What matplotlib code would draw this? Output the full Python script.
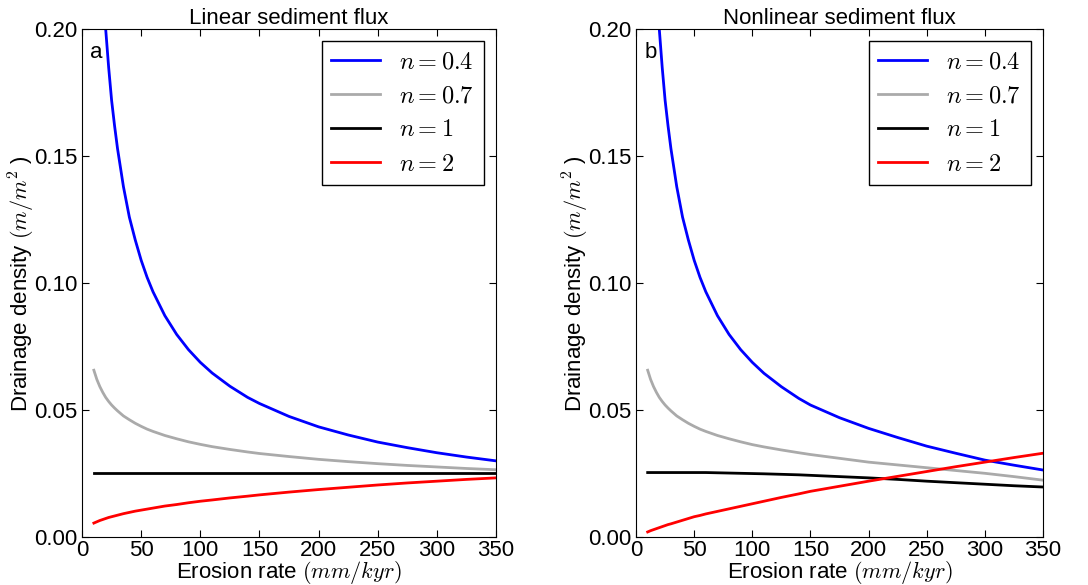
import matplotlib
matplotlib.use('Agg')
import matplotlib.pyplot as plt

plt.rcParams['font.family'] = ['Liberation Sans', 'DejaVu Sans']
plt.rcParams['mathtext.fontset'] = 'cm'
plt.rcParams['xtick.direction'] = 'in'
plt.rcParams['ytick.direction'] = 'in'
plt.rcParams['xtick.top'] = True
plt.rcParams['ytick.right'] = True
plt.rcParams['xtick.major.size'] = 5
plt.rcParams['ytick.major.size'] = 5

# erosion rate (mm/kyr), same sample points for every curve
erosion = [10, 12.5, 15, 17.5, 20, 22.5, 25, 27.5, 30, 35, 40, 45, 50, 55, 60, 70, 80, 90,
           100, 110, 125, 140, 150, 175, 200, 225, 250, 275, 300, 325, 350]

# linear sediment flux
lin_n04 = [0.317, 0.273, 0.242, 0.2185, 0.200, 0.185, 0.172, 0.162, 0.153, 0.138, 0.126,
           0.117, 0.109, 0.1023, 0.0966, 0.0872, 0.0798, 0.0738, 0.0688, 0.0646, 0.0594,
           0.0550, 0.0526, 0.0475, 0.0434, 0.0402, 0.0374, 0.0352, 0.0332, 0.0315, 0.0300]
lin_n07 = [0.0657, 0.0621, 0.0593, 0.0570, 0.0550, 0.0534, 0.0520, 0.0508, 0.0497, 0.0477,
           0.0462, 0.0448, 0.0436, 0.0425, 0.0416, 0.0400, 0.0387, 0.0375, 0.0365, 0.0356,
           0.0345, 0.0335, 0.0329, 0.0317, 0.0306, 0.0297, 0.0289, 0.0282, 0.0276, 0.0270,
           0.0265]
lin_n1 = [0.0253] * 31
lin_n2 = [0.0055, 0.0060, 0.0065, 0.0069, 0.0073, 0.0077, 0.0080, 0.0083, 0.0086, 0.0092,
          0.0097, 0.0102, 0.0106, 0.0110, 0.0114, 0.0122, 0.0128, 0.0135, 0.0141, 0.0146,
          0.0154, 0.0161, 0.0166, 0.0177, 0.0187, 0.0196, 0.0205, 0.0213, 0.0220, 0.0227,
          0.0233]

# nonlinear sediment flux
nl_n04 = [0.317, 0.273, 0.242, 0.2185, 0.200, 0.185, 0.172, 0.162, 0.153, 0.138, 0.126,
          0.117, 0.109, 0.1023, 0.0966, 0.0872, 0.0798, 0.0738, 0.0688, 0.0645, 0.0592,
          0.0546, 0.0520, 0.0470, 0.0428, 0.0392, 0.0358, 0.0330, 0.0303, 0.0283, 0.0264]
nl_n07 = [0.0657, 0.0621, 0.0593, 0.0570, 0.0550, 0.0534, 0.0520, 0.0508, 0.0497, 0.0477,
          0.0462, 0.0448, 0.0436, 0.0425, 0.0416, 0.0400, 0.0387, 0.0375, 0.0364, 0.0355,
          0.0343, 0.0332, 0.0325, 0.0310, 0.0295, 0.0284, 0.0273, 0.0262, 0.0251, 0.0238,
          0.0224]
nl_n1 = [0.0254, 0.0254, 0.0254, 0.0254, 0.0254, 0.0254, 0.0254, 0.0254, 0.0254, 0.0254,
         0.0254, 0.0254, 0.0254, 0.0254, 0.0254, 0.0253, 0.0252, 0.0251, 0.0250, 0.0249,
         0.0247, 0.0245, 0.0243, 0.0238, 0.0233, 0.0227, 0.0220, 0.0214, 0.0208, 0.0202,
         0.0197]
nl_n2 = [0.0020, 0.0025, 0.0029, 0.0033, 0.0037, 0.0041, 0.0045, 0.0049, 0.0052, 0.0059,
         0.0066, 0.0073, 0.0080, 0.0085, 0.0091, 0.0101, 0.0111, 0.0121, 0.0131, 0.0141,
         0.0156, 0.0170, 0.0180, 0.0200, 0.0220, 0.0239, 0.0258, 0.0277, 0.0295, 0.0313,
         0.0330]

labels = [r'$n=0.4$', r'$n=0.7$', r'$n=1$', r'$n=2$']
colors = ['b', '#aaaaaa', 'k', 'r']

fig = plt.figure(figsize=(10.88, 5.85), dpi=100)
ax1 = fig.add_axes([0.0754, 0.082, 0.3805, 0.868])
ax2 = fig.add_axes([0.5846, 0.082, 0.374, 0.868])

panels = [
    (ax1, 'Linear sediment flux', 'a', [lin_n04, lin_n07, lin_n1, lin_n2]),
    (ax2, 'Nonlinear sediment flux', 'b', [nl_n04, nl_n07, nl_n1, nl_n2]),
]

for ax, title, letter, series in panels:
    for ys, lab, c in zip(series, labels, colors):
        ax.plot(erosion, ys, color=c, lw=2, label=lab)
    ax.set_xlim(0, 350)
    ax.set_ylim(0, 0.2)
    ax.set_xticks(range(0, 351, 50))
    ax.set_yticks([0.0, 0.05, 0.10, 0.15, 0.20])
    ax.set_yticklabels(['0.00', '0.05', '0.10', '0.15', '0.20'])
    ax.tick_params(labelsize=16)
    ax.tick_params(axis='x', pad=2)
    ax.set_title(title, fontsize=16, pad=2)
    ax.set_xlabel(r'Erosion rate $(mm/kyr)$', fontsize=16, labelpad=-1)
    ax.set_ylabel(r'Drainage density $(m/m^2$ )', fontsize=16, labelpad=-2)
    ax.text(0.02, 0.975, letter, transform=ax.transAxes, fontsize=16, va='top', ha='left')
    leg = ax.legend(loc='upper right', fontsize=17.5, fancybox=False, framealpha=1,
                    edgecolor='k', handlelength=2, borderaxespad=0.5)
    leg.get_frame().set_linewidth(1)

fig.savefig('out.png', dpi=100)
